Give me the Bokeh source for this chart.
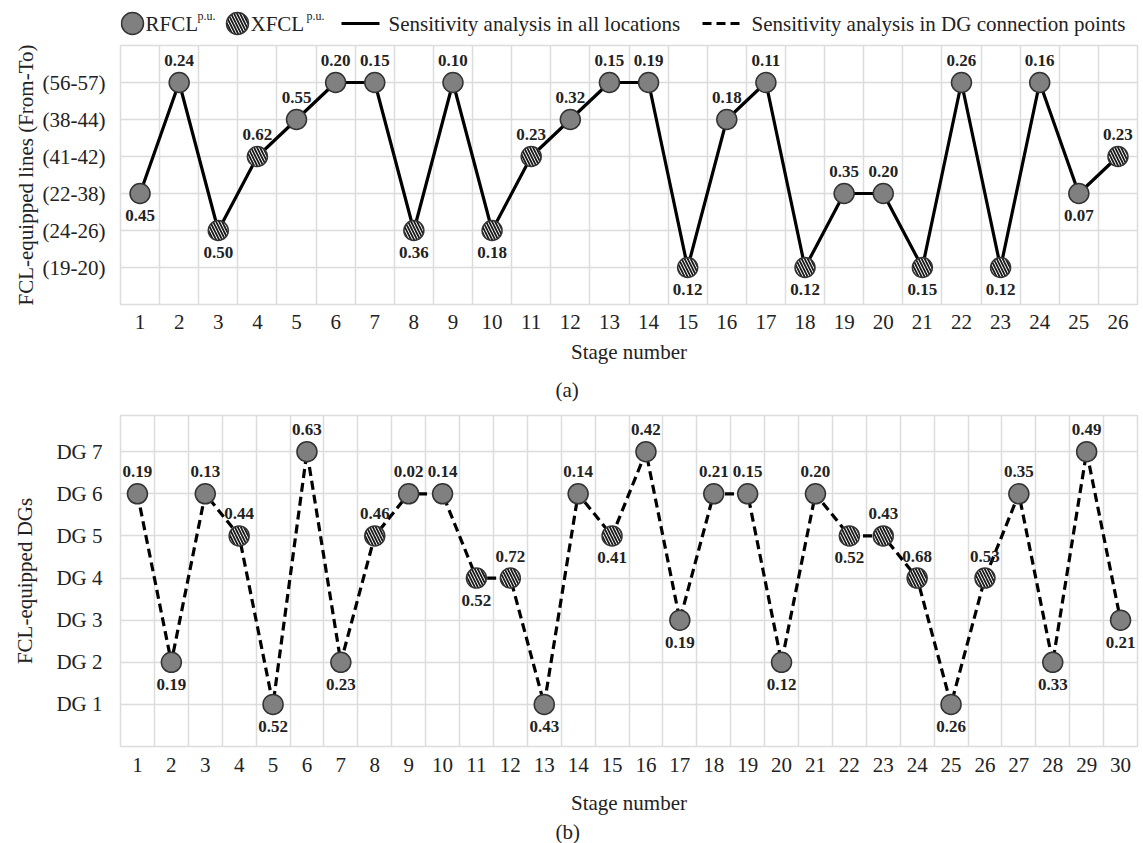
from bokeh.plotting import figure
from bokeh.models import ColumnDataSource, FixedTicker, Range1d, Title
from bokeh.layouts import column
from bokeh.embed import file_html
from bokeh.resources import INLINE
from bokeh.core.properties import value

# ---------------- data: panel (a) ----------------
line_levels = ["(19-20)", "(24-26)", "(22-38)", "(41-42)", "(38-44)", "(56-57)"]
stages_a = list(range(1, 27))
lines_a = ["(22-38)", "(56-57)", "(24-26)", "(41-42)", "(38-44)", "(56-57)", "(56-57)",
           "(24-26)", "(56-57)", "(24-26)", "(41-42)", "(38-44)", "(56-57)", "(56-57)",
           "(19-20)", "(38-44)", "(56-57)", "(19-20)", "(22-38)", "(22-38)", "(19-20)",
           "(56-57)", "(19-20)", "(56-57)", "(22-38)", "(41-42)"]
types_a = ["R", "R", "X", "X", "R", "R", "R", "X", "R", "X", "X", "R", "R", "R",
           "X", "R", "R", "X", "R", "R", "X", "R", "X", "R", "R", "X"]
values_a = [0.45, 0.24, 0.50, 0.62, 0.55, 0.20, 0.15, 0.36, 0.10, 0.18, 0.23, 0.32, 0.15,
            0.19, 0.12, 0.18, 0.11, 0.12, 0.35, 0.20, 0.15, 0.26, 0.12, 0.16, 0.07, 0.23]
side_a = ["below", "above", "below", "above", "above", "above", "above", "below", "above",
          "below", "above", "above", "above", "above", "below", "above", "above", "below",
          "above", "above", "below", "above", "below", "above", "below", "above"]

# ---------------- data: panel (b) ----------------
dg_levels = ["DG 1", "DG 2", "DG 3", "DG 4", "DG 5", "DG 6", "DG 7"]
stages_b = list(range(1, 31))
dg_b = [6, 2, 6, 5, 1, 7, 2, 5, 6, 6, 4, 4, 1, 6, 5, 7, 3, 6, 6, 2, 6, 5, 5, 4, 1, 4, 6, 2, 7, 3]
types_b = ["R", "R", "R", "X", "R", "R", "R", "X", "R", "R", "X", "X", "R", "R", "X",
           "R", "R", "R", "R", "R", "R", "X", "X", "X", "R", "X", "R", "R", "R", "R"]
values_b = [0.19, 0.19, 0.13, 0.44, 0.52, 0.63, 0.23, 0.46, 0.02, 0.14, 0.52, 0.72, 0.43, 0.14,
            0.41, 0.42, 0.19, 0.21, 0.15, 0.12, 0.20, 0.52, 0.43, 0.68, 0.26, 0.53, 0.35, 0.33,
            0.49, 0.21]
side_b = ["above", "below", "above", "above", "below", "above", "below", "above", "above",
          "above", "below", "above", "below", "above", "below", "above", "below", "above",
          "above", "below", "above", "below", "above", "above", "below", "above", "above",
          "below", "above", "below"]

FONT = "Liberation Serif"
GRID = "#dcdcdc"
TXT = "#222222"
GRAY = "#808080"
EDGE = "#333333"
HATCH = dict(hatch_pattern="left_diagonal_line", hatch_color="#1a1a1a",
             hatch_weight=1.8, hatch_scale=6)


def make_panel(stages, ycats, levels, types, vals, sides, ylabel, dash, tag,
               height, border_top, border_bottom, border_right, ymax, ylabel_standoff,
               ytick_standoff, tick_standoff, xlabel_standoff, tag_standoff):
    n = len(stages)
    lvl = {c: i + 1 for i, c in enumerate(levels)}
    y = [lvl[c] if isinstance(c, str) else c for c in ycats]
    p = figure(width=1143, height=height, x_range=Range1d(0.5, n + 0.5),
               y_range=Range1d(0, ymax), output_backend="svg", toolbar_location=None,
               title=None,
               min_border_left=120, min_border_right=border_right,
               min_border_top=border_top, min_border_bottom=border_bottom)
    p.background_fill_color = "white"
    p.border_fill_color = "white"
    p.outline_line_color = GRID
    p.outline_line_width = 1.5

    p.xaxis.ticker = FixedTicker(ticks=stages)
    p.xgrid.ticker = FixedTicker(ticks=[i + 0.5 for i in range(0, n + 1)])
    p.yaxis.ticker = FixedTicker(ticks=list(range(0, len(levels) + 2)))
    overrides = {0: ""}
    for i, c in enumerate(levels):
        overrides[i + 1] = c
    overrides[len(levels) + 1] = ""
    p.yaxis.major_label_overrides = overrides
    p.grid.grid_line_color = GRID
    p.grid.grid_line_width = 1.5

    p.axis.axis_line_color = None
    p.axis.major_tick_line_color = None
    p.axis.minor_tick_line_color = None
    p.axis.major_label_text_font = FONT
    p.axis.major_label_text_font_size = "21px"
    p.axis.major_label_text_color = TXT
    p.axis.axis_label_text_font = FONT
    p.axis.axis_label_text_font_size = "21px"
    p.axis.axis_label_text_font_style = "normal"
    p.axis.axis_label_text_color = TXT
    p.xaxis.axis_label = "Stage number"
    p.xaxis.major_label_standoff = tick_standoff
    p.xaxis.axis_label_standoff = xlabel_standoff
    p.yaxis.axis_label = ylabel
    p.yaxis.major_label_standoff = ytick_standoff
    p.yaxis.axis_label_standoff = ylabel_standoff

    t = Title(text=tag, align="left", offset=435, text_font=FONT, text_font_size="21px",
              text_font_style="normal", text_color=TXT, standoff=tag_standoff)
    p.add_layout(t, "below")

    p.line(stages, y, line_color="black", line_width=3.2, line_dash=dash)

    rx = [s for s, tp in zip(stages, types) if tp == "R"]
    ry = [v for v, tp in zip(y, types) if tp == "R"]
    xx = [s for s, tp in zip(stages, types) if tp == "X"]
    xy = [v for v, tp in zip(y, types) if tp == "X"]
    p.scatter(rx, ry, size=20, fill_color=GRAY, line_color=EDGE, line_width=1.5)
    p.scatter(xx, xy, size=20, fill_color="white", line_color=EDGE, line_width=1.5, **HATCH)

    src = ColumnDataSource(dict(
        x=stages, y=y, txt=["%.2f" % v for v in vals],
        yoff=[-22 if s == "above" else 22 for s in sides]))
    p.text(x="x", y="y", text="txt", y_offset="yoff", source=src, text_align="center",
           text_baseline="middle", text_font=value(FONT), text_font_style="bold",
           text_font_size="17px", text_color=TXT)
    return p


# ---------------- legend row (x range in pixels of the aligned frame) ----------------
LH = 40
CY = LH - 23
SY = LH - 15
leg = figure(width=1143, height=LH, x_range=Range1d(120, 1137), y_range=Range1d(0, LH),
             output_backend="svg", toolbar_location=None, min_border=0, title=None,
             min_border_left=120, min_border_right=6,
             x_axis_type=None, y_axis_type=None)
leg.grid.visible = False
leg.outline_line_color = None
leg.background_fill_color = "white"
leg.border_fill_color = "white"
leg.scatter([132], [CY], size=22, fill_color=GRAY, line_color=EDGE, line_width=1.5)
leg.text([145], [CY], text=["RFCL"], text_align="left", text_baseline="middle",
         text_font=value(FONT), text_font_size="21px", text_color=TXT)
leg.text([197], [SY], text=["p.u."], text_align="left", text_baseline="middle",
         text_font=value(FONT), text_font_size="12px", text_color=TXT)
leg.scatter([237], [CY], size=22, fill_color="white", line_color=EDGE, line_width=1.5, **HATCH)
leg.text([250], [CY], text=["XFCL"], text_align="left", text_baseline="middle",
         text_font=value(FONT), text_font_size="21px", text_color=TXT)
leg.text([306], [SY], text=["p.u."], text_align="left", text_baseline="middle",
         text_font=value(FONT), text_font_size="12px", text_color=TXT)
leg.line([341, 379], [CY, CY], line_color="black", line_width=3.2)
leg.text([388], [CY], text=["Sensitivity analysis in all locations"], text_align="left",
         text_baseline="middle", text_font=value(FONT), text_font_size="21px", text_color=TXT)
leg.line([702, 742], [CY, CY], line_color="black", line_width=3.2, line_dash="9 5")
leg.text([751], [CY], text=["Sensitivity analysis in DG connection points"], text_align="left",
         text_baseline="middle", text_font=value(FONT), text_font_size="21px", text_color=TXT)

TOP_H = 370
pa = make_panel(stages_a, lines_a, line_levels, types_a, values_a, side_a,
                "FCL-equipped lines (From-To)", "solid", "(a)",
                height=TOP_H, border_top=45 - LH, border_bottom=TOP_H - (45 - LH) - 260,
                border_right=6, ymax=7,
                ylabel_standoff=2, ytick_standoff=9, tick_standoff=4, xlabel_standoff=8,
                tag_standoff=18)
BOT_H = 843 - LH - TOP_H
pb = make_panel(stages_b, dg_b, dg_levels, types_b, values_b, side_b,
                "FCL-equipped DGs", "9 5", "(b)",
                height=BOT_H, border_top=415 - LH - TOP_H,
                border_bottom=BOT_H - (415 - LH - TOP_H) - 331,
                border_right=3, ymax=7.86,
                ylabel_standoff=16, ytick_standoff=12, tick_standoff=5, xlabel_standoff=16,
                tag_standoff=0)

layout = column(leg, pa, pb, spacing=0)
open("out.html", "w").write(file_html(layout, INLINE))
